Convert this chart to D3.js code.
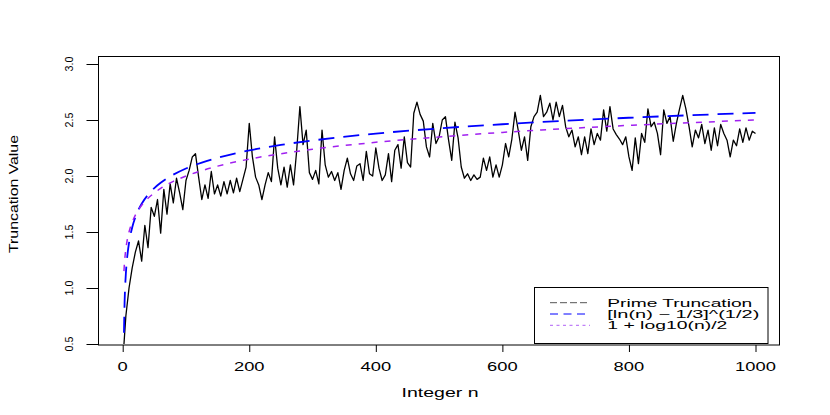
<!DOCTYPE html>
<html><head><meta charset="utf-8">
<script src="https://cdn.jsdelivr.net/npm/d3@7/dist/d3.min.js"></script>
<style>body{margin:0;background:#fff}svg{display:block}text{font-family:"Liberation Sans",Arial,Helvetica,sans-serif;fill:#000}</style>
</head><body><svg id="c" width="830" height="415"></svg>
<script>
const nValues = [2,
 5,10,15,20,25,30,35,40,45,50, 55,60,65,70,75,80,85,90,95,100,
 105,110,115,120,125,130,135,140,145,150, 155,160,165,170,175,180,185,190,195,200,
 205,210,215,220,225,230,235,240,245,250, 255,260,265,270,275,280,285,290,295,300,
 305,310,315,320,325,330,335,340,345,350, 355,360,365,370,375,380,385,390,395,400,
 405,410,415,420,425,430,435,440,445,450, 455,460,465,470,475,480,485,490,495,500,
 505,510,515,520,525,530,535,540,545,550, 555,560,565,570,575,580,585,590,595,600,
 605,610,615,620,625,630,635,640,645,650, 655,660,665,670,675,680,685,690,695,700,
 705,710,715,720,725,730,735,740,745,750, 755,760,765,770,775,780,785,790,795,800,
 805,810,815,820,825,830,835,840,845,850, 855,860,865,870,875,880,885,890,895,900,
 905,910,915,920,925,930,935,940,945,950, 955,960,965,970,975,980,985,990,995,1000];
const truncValues = [0.50,
 0.75,1.00,1.18,1.32,1.42,1.24,1.56,1.36,1.72,1.64, 1.79,1.49,1.88,1.66,1.93,1.76,1.98,1.85,1.70,1.96,
 2.05,2.17,2.20,1.99,1.79,1.92,1.80,2.04,1.84,1.92, 1.82,1.95,1.84,1.96,1.85,1.98,1.86,1.97,2.08,2.47,
 2.17,1.99,1.92,1.79,1.92,2.03,1.95,2.35,2.07,1.92, 2.08,1.90,2.10,1.92,2.23,2.62,2.28,2.41,2.03,1.97,
 2.05,1.93,2.41,2.10,1.99,2.04,1.96,2.03,1.88,2.05, 2.16,2.02,1.96,2.09,2.11,1.96,2.22,2.02,2.00,2.25,
 2.07,1.96,2.01,2.20,1.95,2.23,2.28,2.07,2.35,2.12, 2.08,2.56,2.66,2.55,2.49,2.26,2.17,2.47,2.29,2.35,
 2.50,2.53,2.32,2.14,2.48,2.34,2.08,1.98,2.02,1.96, 2.01,1.97,1.99,2.16,2.05,2.17,1.99,2.10,1.99,2.10,
 2.29,2.17,2.33,2.57,2.41,2.23,2.35,2.14,2.44,2.53, 2.57,2.72,2.53,2.57,2.65,2.50,2.66,2.53,2.63,2.44,
 2.35,2.41,2.26,2.35,2.19,2.35,2.20,2.42,2.28,2.38, 2.32,2.59,2.40,2.62,2.42,2.37,2.33,2.28,2.35,2.17,
 2.05,2.34,2.11,2.38,2.30,2.60,2.44,2.48,2.38,2.19, 2.59,2.47,2.53,2.31,2.47,2.60,2.72,2.60,2.44,2.26,
 2.41,2.34,2.46,2.29,2.41,2.23,2.43,2.27,2.46,2.38, 2.32,2.17,2.32,2.27,2.42,2.30,2.43,2.32,2.40,2.38];

const curveN = [2,3,4,5,6,7,8,10,12,15,20,25,30,40,50,60,70,80,100,125,150,200,250,300,400,500,600,700,800,900,1000];
const sqrtLnValues = [0.600,0.875,1.026,1.130,1.208,1.270,1.321,1.403,1.467,1.541,1.632,1.699,1.752,1.832,1.892,1.939,1.979,2.012,2.067,2.120,2.163,2.228,2.278,2.317,2.379,2.425,2.462,2.494,2.520,2.543,2.564];
const log10Values = [1.151,1.239,1.301,1.349,1.389,1.423,1.452,1.500,1.540,1.588,1.651,1.699,1.739,1.801,1.849,1.889,1.923,1.952,2.000,2.048,2.088,2.151,2.199,2.239,2.301,2.349,2.389,2.423,2.452,2.477,2.500];

const xTicks = [0,200,400,600,800,1000];
const xTickLabels = ["0","200","400","600","800","1000"];
const yTicks = [0.5,1.0,1.5,2.0,2.5,3.0];
const yTickLabels = ["0.5","1.0","1.5","2.0","2.5","3.0"];
const xTitle = "Integer n";
const yTitle = "Truncation Value";
const legendLabels = ["Prime Truncation","[ln(n) \u2212 1/3]^(1/2)","1 + log10(n)/2"];

const svg = d3.select("#c");
const box = {l:98.5, t:56.5, r:779.5, b:345};
const x = d3.scaleLinear().domain([0,1000]).range([122.7,755.5]);
const y = d3.scaleLinear().domain([0.5,3.0]).range([344,64]);

const black = nValues.map((n,i)=>[n,truncValues[i]]);
const blue = curveN.map((n,i)=>[n,sqrtLnValues[i]]);
const purple = curveN.map((n,i)=>[n,log10Values[i]]);
const line = d3.line().x(d=>x(d[0])).y(d=>y(d[1]));
const sline = d3.line().x(d=>x(d[0])).y(d=>y(d[1])).curve(d3.curveMonotoneX);

svg.append("path").attr("d",line(black)).attr("fill","none").attr("stroke","#000").attr("stroke-width",1.3).attr("stroke-linejoin","round");
svg.append("path").attr("d",sline(blue)).attr("fill","none").attr("stroke","#0000ff").attr("stroke-width",1.8).attr("stroke-dasharray","16,9");
svg.append("path").attr("d",sline(purple)).attr("fill","none").attr("stroke","#a020f0").attr("stroke-width",1.5).attr("stroke-dasharray","6,7");

svg.append("rect").attr("x",box.l).attr("y",box.t).attr("width",box.r-box.l).attr("height",box.b-box.t)
  .attr("fill","none").attr("stroke","#000").attr("stroke-width",1);

const xa = svg.append("g").attr("transform",`translate(0,${box.b})`)
  .call(d3.axisBottom(x).tickValues(xTicks).tickSizeOuter(0).tickSize(7));
xa.select(".domain").remove();
xa.selectAll("line").attr("stroke","#000");
xa.selectAll("text").remove();
xTicks.forEach((t,i)=>{
  svg.append("text").attr("x",x(t)).attr("y",370.7).attr("text-anchor","middle").attr("font-size",12.5)
    .attr("textLength",xTickLabels[i].length*10.2).attr("lengthAdjust","spacingAndGlyphs").text(xTickLabels[i]);
});
svg.append("text").attr("x",440).attr("y",396.5).attr("text-anchor","middle").attr("font-size",12.5)
  .attr("textLength",77).attr("lengthAdjust","spacingAndGlyphs").text(xTitle);

const ya = svg.append("g").attr("transform",`translate(${box.l},0)`)
  .call(d3.axisLeft(y).tickValues(yTicks).tickSizeOuter(0).tickSize(12));
ya.select(".domain").remove();
ya.selectAll("line").attr("stroke","#000");
ya.selectAll("text").remove();
yTicks.forEach((t,i)=>{
  svg.append("text").attr("transform",`translate(73,${y(t)}) rotate(-90)`).attr("text-anchor","middle")
    .attr("font-size",11.5).attr("textLength",15).attr("lengthAdjust","spacingAndGlyphs").text(yTickLabels[i]);
});
svg.append("text").attr("transform",`translate(18,194) rotate(-90)`).attr("text-anchor","middle")
  .attr("font-size",13).attr("textLength",118).attr("lengthAdjust","spacingAndGlyphs").text(yTitle);

const lg = {x:534, y:287, w:233.5, h:56};
svg.append("rect").attr("x",lg.x+0.5).attr("y",lg.y+0.5).attr("width",lg.w).attr("height",lg.h)
  .attr("fill","#fff").attr("stroke","#000").attr("stroke-width",1);
const legStyles = [
  {c:"#555", d:"7,3", w:1},
  {c:"#0000ff", d:"8,5.5", w:1},
  {c:"#c080f8", d:"3,3.5", w:1.2}
];
const legWidths = [145,152,120];
const legRowY = [302.7,314,325.3];
legendLabels.forEach((lab,i)=>{
  svg.append("line").attr("x1",550).attr("x2",590).attr("y1",legRowY[i]).attr("y2",legRowY[i])
    .attr("stroke",legStyles[i].c).attr("stroke-width",legStyles[i].w).attr("stroke-dasharray",legStyles[i].d);
  svg.append("text").attr("x",607.3).attr("y",legRowY[i]+3.8).attr("font-size",10.6)
    .attr("textLength",legWidths[i]).attr("lengthAdjust","spacingAndGlyphs").text(lab);
});
</script></body></html>
